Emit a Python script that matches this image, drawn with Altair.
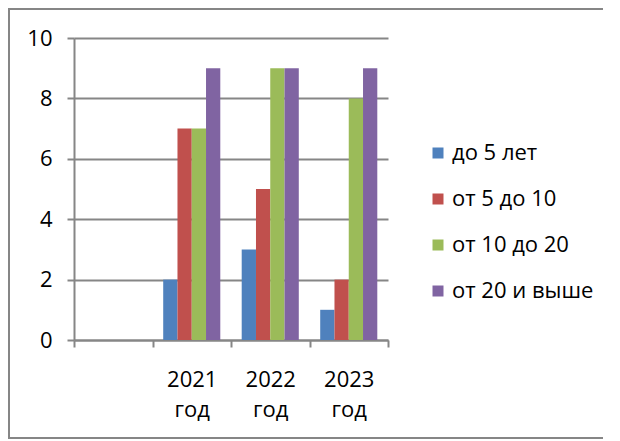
import altair as alt
import pandas as pd

categories = ["", "2021 год", "2022 год", "2023 год"]
series = ["до 5 лет", "от 5 до 10", "от 10 до 20", "от 20 и выше"]
years = ["2021 год", "2022 год", "2023 год"]
v_do5 = [2, 3, 1]
v_5_10 = [7, 5, 2]
v_10_20 = [7, 9, 8]
v_20up = [9, 9, 9]
colors = ["#4F81BD", "#C0504D", "#9BBB59", "#8064A2"]

rows = []
for s, vals in zip(series, [v_do5, v_5_10, v_10_20, v_20up]):
    for y, v in zip(years, vals):
        rows.append({"cat": y, "series": s, "value": v})
df = pd.DataFrame(rows)

FONT = "Open Sans"
GRAY = "#868686"

bars = alt.Chart(df).mark_bar(clip=False).encode(
    x=alt.X("cat:N", sort=categories,
            scale=alt.Scale(domain=categories, paddingInner=0, paddingOuter=0),
            axis=alt.Axis(title=None, tickBand="extent", labelExpr="split(datum.label, ' ')",
                          labelFontSize=22, labelLineHeight=30, labelPadding=22,
                          labelAngle=0, tickSize=7, tickColor=GRAY, domainColor=GRAY,
                          tickWidth=2, domainWidth=2, labelColor="black", labelFont=FONT,
                          grid=False)),
    xOffset=alt.XOffset("series:N", sort=series,
                        scale=alt.Scale(domain=series, paddingInner=0, paddingOuter=0.75)),
    y=alt.Y("value:Q", scale=alt.Scale(domain=[0, 10]),
            axis=alt.Axis(title=None, values=[0, 2, 4, 6, 8, 10], grid=True, gridColor=GRAY,
                          gridWidth=2, tickSize=7, tickColor=GRAY, tickWidth=2,
                          domainColor=GRAY, domainWidth=2, labelFontSize=22,
                          labelPadding=15, labelColor="black", labelFont=FONT)),
    color=alt.Color("series:N", sort=series,
                    scale=alt.Scale(domain=series, range=colors),
                    legend=alt.Legend(title=None, orient="none", legendX=353, legendY=104,
                                      symbolType="square", symbolSize=121, symbolStrokeWidth=0,
                                      labelFontSize=22, labelFont=FONT, labelColor="black",
                                      rowPadding=24, labelOffset=3)),
)

frame = alt.Chart(pd.DataFrame({"a": [0]}))
left_edge = frame.mark_rule(stroke=GRAY, strokeWidth=2, clip=False).encode(
    x=alt.value(-65), y=alt.value(-29), y2=alt.value(400))
top_edge = frame.mark_rule(stroke=GRAY, strokeWidth=2, clip=False).encode(
    x=alt.value(-66), x2=alt.value(529), y=alt.value(-29))
bottom_edge = frame.mark_rule(stroke=GRAY, strokeWidth=2, clip=False).encode(
    x=alt.value(-66), x2=alt.value(529), y=alt.value(400))

chart = alt.layer(left_edge, top_edge, bottom_edge, bars).properties(
    width=314, height=302,
    autosize=alt.AutoSizeParams(type="none"),
    padding={"left": 66, "top": 30, "right": 224, "bottom": 101},
    background="white",
).configure_view(stroke=None)

chart.save("out.html", embed_options={"renderer": "svg", "actions": False})
